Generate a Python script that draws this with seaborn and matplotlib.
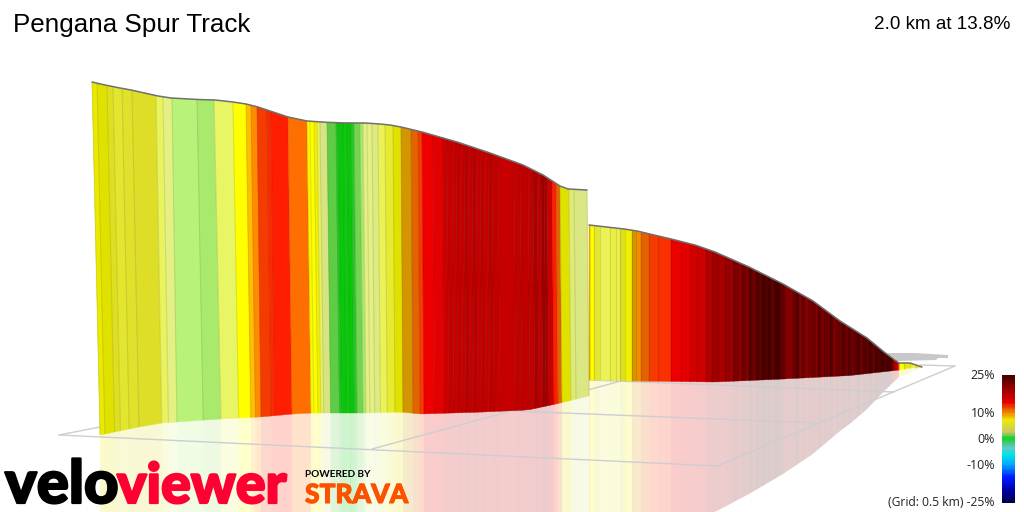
import numpy as np
import seaborn as sns
import matplotlib
matplotlib.use("Agg")
import matplotlib.pyplot as plt
import matplotlib.patheffects as pe
from matplotlib.collections import PolyCollection, LineCollection
from matplotlib.colors import LinearSegmentedColormap, Normalize

title = "Pengana Spur Track"
summary = "2.0 km at 13.8%"
grid_note = "(Grid: 0.5 km) -25%"
legend_ticks = [25, 10, 0, -10]

# top and bottom outline of the wall (px)
w1_top_x = [92,105,120,131,158,171,198,215,233,246,258,270,288,307,327,345,365,380,390,401,422,457,490,523,543,560,568,587]
w1_top_y = [82,85,88,90,96,98,99.5,100,102,104,107,111,117,121,122.3,123,123,124,125,127,132,142,153,165,175,186,189,190]
w1_bot_x = [100,139,162,177,220,260,293,312,343,367,400,421,483,528,556,589]
w1_bot_y = [435,427,423,422,419,417,414,413,413,413,412,414,412,410,404,396]
w1_shift_from = [92,132,172,214,257,307,363,393,587]
w1_shift_to = [100,139,177,221,261,311,366,395,589]

w2_top_x = [589,624,637,671,695,715,749,783,813,840,867,884,899]
w2_top_y = [225,229,231,239,245,252,267,284,301,321,338,352,363]
w2_bot_x = [589,631,715,783,850,899]
w2_bot_y = [380,381,382,379,375.5,370]

tip_top_x = [899,910,922]
tip_top_y = [363,363,367]
tip_bot_y = [370,368,367]

# strip edges along the wall and the gradient (%) of each strip
w1_edges = [92,97,107,113,122,132,156,163,172,197,214,233,246,251,257,267,271,288,307,310,
            314,317,320,327,336,338,343,347,351,354,360,363,367,372,378,385,393,401,411,418,
            422,433,442,447,452,456,460,464,468,472,476,480,484,488,492,498,514,520,528,533,
            537,541,544,547,552,556,560,569,574,587]
w1_grads = [5.6,5,4.6,4.2,4.4,4.5,3.2,2.2,1.7,1.4,3,7,7.6,8,10,10.6,11,8.6,6.6,
            6.9,6.1,3.4,2.6,1,0.5,0.1,0.2,0.1,0.5,1.1,1.4,2.2,2.2,2.4,3.3,4,5,8.3,9.2,
            10,11.6,12,13,13.6,13.3,13.9,13.5,14.2,13.6,14.2,13.5,14,13.4,14.1,13.7,13.5,13.8,14,13.8,
            14.8,14,15.5,15,13.3,11,9.2,5,2.8,2.5]
w2_edges = [589,590,594,600,610,616,620,625,632,636,641,649,658,671,681,690,697,706,712,718,
            725,729,733,738,742,745,749,752,756,759,762,765,768,771,774,777,780,783,785,793,
            796,799,802,805,808,812,815,818,821,824,827,830,833,836,839,842,845,848,851,854,
            857,860,863,866,869,872,875,878,881,884,887,890,893,896,899]
w2_grads = [7.8,6.9,4.2,3.3,3.7,3.5,4.5,6,8.3,8.1,9.2,10,10.4,11.7,12,12.7,13,14.5,15.3,14.9,
            16,15.5,17.5,16.5,18.5,17,20,18,21,19,22,20,22,19,21,22,19,19,17,
            18,20,17,19,16.5,17.5,18.5,17,19.5,17,18.5,18,20,17,18.5,18,20,18,19.5,18,
            19,21,18,20,19,22,19,21,20,23,20,22,20,15,13]
tip_edges = [899,904,910,916,922]
tip_grads = [7,5.5,3.8,5]

# far side of the route, seen behind the wall
far_x = [887,915,948,948,938,936,898]
far_y = [353,353,355,358,358,360,361]

# ground grid lines, as (x0, x1, y0, y1)
grid_x0 = [59,59,372,717,500,590]
grid_x1 = [717,100,628,955,817,894]
grid_y0 = [435,435,449,466,410.5,380]
grid_y1 = [466,427,379,366,423,392]
grid_far_x = [920,955]
grid_far_y = [365,366]

wall_stops = [0,0.5,1,1.4,1.7,2.2,2.6,3,3.5,4,4.5,5,6,7,7.6,8,8.3,8.6,9.2,10,11,11.5,12,13,14,15,16,17,18,19,20,22,25]
wall_rgb = [(0,200,0),(40,200,40),(95,205,70),(170,235,110),(185,242,120),(228,240,130),(215,228,130),
            (232,245,100),(235,240,80),(230,235,50),(222,222,40),(225,225,0),(240,240,0),(255,255,0),
            (255,190,0),(255,140,0),(210,150,0),(255,110,0),(225,100,0),(245,60,0),(255,30,0),(240,0,0),
            (228,0,0),(205,0,0),(190,0,0),(165,0,0),(150,0,0),(130,0,0),(115,0,0),(100,0,0),(85,0,0),(70,0,0),(55,0,0)]
legend_stops = [-25,-20,-15,-10,-6,-3.5,0.4,2.7,7.4,10.5,14.5,20,25]
legend_rgb = [(0,0,70),(0,0,170),(0,30,255),(0,170,255),(0,230,230),(100,200,200),(20,210,40),
              (200,200,110),(235,235,0),(240,130,0),(230,0,0),(150,0,0),(70,0,0)]


def make_cmap(stops, rgb):
    lo, hi = stops[0], stops[-1]
    pairs = [((s - lo) / (hi - lo), tuple(c / 255 for c in col)) for s, col in zip(stops, rgb)]
    return LinearSegmentedColormap.from_list("grad", pairs, N=2048)


def draw_wall(ax, edges, grads, top_x, top_y, bot_x, bot_y, shift_from, shift_to, cmap, norm):
    edges = np.array(edges, dtype=float)
    xt = edges
    yt = np.interp(xt, top_x, top_y)
    xb = np.interp(xt, shift_from, shift_to)
    yb = np.interp(xb, bot_x, bot_y)
    cols = cmap(norm(np.array(grads)))
    faces = []
    mirror = []
    for i in range(len(grads)):
        faces.append([(xt[i], yt[i]), (xt[i+1], yt[i+1]), (xb[i+1], yb[i+1]), (xb[i], yb[i])])
        mirror.append([(xb[i], yb[i]), (xb[i+1], yb[i+1]), (xb[i+1], 2*yb[i+1]-yt[i+1]), (xb[i], 2*yb[i]-yt[i])])
    ax.add_collection(PolyCollection(mirror, facecolors=cols, edgecolors="none", alpha=0.2, zorder=2))
    ax.add_collection(PolyCollection(faces, facecolors=cols, edgecolors=cols, linewidths=0.3, zorder=3))
    seams = [[(xt[i], yt[i]), (xb[i], yb[i])] for i in range(len(edges))]
    ax.add_collection(LineCollection(seams, colors="black", alpha=0.1, linewidths=0.8, zorder=3.2))


sns.set_theme(style="white")
plt.rcParams['font.family'] = ['Open Sans', 'DejaVu Sans']

fig = plt.figure(figsize=(10.24, 5.12), dpi=100)
ax = fig.add_axes([0, 0, 1, 1])
ax.set_xlim(0, 1024)
ax.set_ylim(512, 0)
ax.axis("off")

wall_cmap = make_cmap(wall_stops, wall_rgb)
wall_norm = Normalize(0, 25)

ax.fill(far_x, far_y, color="#c8c8c8", lw=0, zorder=1)
for x0, x1, y0, y1 in zip(grid_x0, grid_x1, grid_y0, grid_y1):
    ax.plot([x0, x1], [y0, y1], color="#cdcdd2", lw=1, zorder=2.5)
ax.plot(grid_far_x, grid_far_y, color="#cdcdd2", lw=1, zorder=2.5)

draw_wall(ax, w2_edges, w2_grads, w2_top_x, w2_top_y, w2_bot_x, w2_bot_y, [589, 899], [589, 899], wall_cmap, wall_norm)
draw_wall(ax, tip_edges, tip_grads, tip_top_x, tip_top_y, tip_top_x, tip_bot_y, [899, 922], [899, 922], wall_cmap, wall_norm)
draw_wall(ax, w1_edges, w1_grads, w1_top_x, w1_top_y, w1_bot_x, w1_bot_y, w1_shift_from, w1_shift_to, wall_cmap, wall_norm)

for xs, ys in [(w1_top_x, w1_top_y), (w2_top_x, w2_top_y), (tip_top_x, tip_top_y)]:
    sns.lineplot(x=xs, y=ys, sort=False, estimator=None, color="#707070", lw=1.1, ax=ax, zorder=4, legend=False)
ax.set_xlim(0, 1024)
ax.set_ylim(512, 0)
ax.axis("off")

ax.text(13, 32, title, fontsize=18.7, family=["Liberation Sans"], color="black", va="baseline", zorder=6)
ax.text(1010, 29, summary, fontsize=13.6, family=["Liberation Sans"], color="black", ha="right", va="baseline", zorder=6)

# logos
ax.text(5, 503, "velo", fontsize=43, family=["Lato"], fontweight="black", color="black", va="baseline", zorder=6,
        path_effects=[pe.withStroke(linewidth=1.6, foreground="black")])
ax.text(117, 503, "viewer", fontsize=40, family=["Lato"], fontweight="black", color="#ff0033", va="baseline", zorder=6,
        path_effects=[pe.withStroke(linewidth=1.6, foreground="#ff0033")])
ax.text(305, 477, "POWERED BY", fontsize=7.2, family=["Lato"], fontweight="bold", color="black", va="baseline", zorder=6)
ax.text(305, 503, "STRAVA", fontsize=19, family=["Lato"], fontweight="black", color="#fc5200", va="baseline", zorder=6,
        path_effects=[pe.withStroke(linewidth=0.8, foreground="#fc5200")])

# gradient legend
for t in legend_ticks:
    ax.text(995, 439.5 - t * 2.56, f"{t}%", fontsize=8.9, ha="right", va="center", color="#222222", zorder=6)
ax.text(995, 503, grid_note, fontsize=8.7, ha="right", va="center", color="#222222", zorder=6)

cax = fig.add_axes([1002 / 1024, 1 - 503 / 512, 13 / 1024, 128 / 512])
legend_levels = np.arange(25, -25.5, -0.5).reshape(-1, 1)
sns.heatmap(legend_levels, cmap=make_cmap(legend_stops, legend_rgb), vmin=-25, vmax=25, cbar=False,
            xticklabels=False, yticklabels=False, ax=cax)

plt.savefig("out.png", dpi=100)
